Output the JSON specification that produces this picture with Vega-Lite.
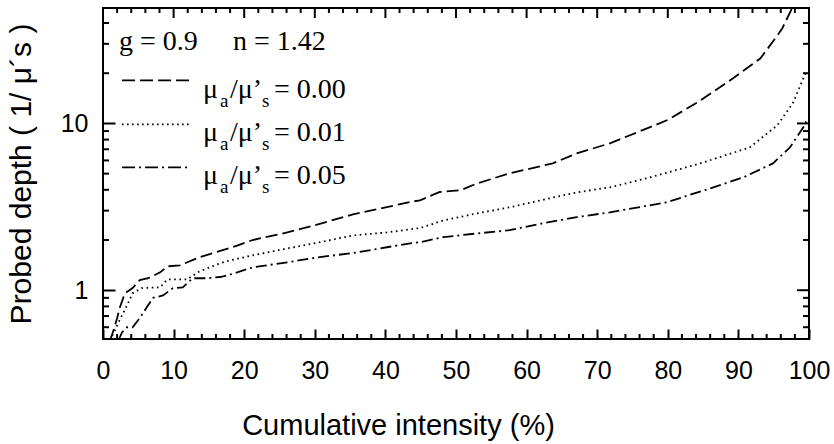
{
  "$schema": "https://vega.github.io/schema/vega-lite/v6.json",
  "width": 706,
  "height": 331,
  "autosize": "none",
  "padding": {"left": 103, "top": 8, "right": 25, "bottom": 105},
  "background": "white",
  "config": {
    "view": {"stroke": "black", "strokeWidth": 2},
    "axis": {
      "domain": false,
      "grid": false,
      "tickColor": "black",
      "labelColor": "black",
      "titleColor": "black",
      "labelFont": "Liberation Sans",
      "titleFont": "Liberation Sans",
      "labelFontSize": 25,
      "titleFontSize": 29,
      "titleFontWeight": "normal"
    },
    "text": {"font": "Liberation Serif", "color": "black"},
    "tick": {"color": "black", "thickness": 2, "opacity": 1}
  },
  "datasets": {
    "xminor": [{"v": 2}, {"v": 4}, {"v": 6}, {"v": 8}, {"v": 12}, {"v": 14}, {"v": 16}, {"v": 18}, {"v": 22}, {"v": 24}, {"v": 26}, {"v": 28}, {"v": 32}, {"v": 34}, {"v": 36}, {"v": 38}, {"v": 42}, {"v": 44}, {"v": 46}, {"v": 48}, {"v": 52}, {"v": 54}, {"v": 56}, {"v": 58}, {"v": 62}, {"v": 64}, {"v": 66}, {"v": 68}, {"v": 72}, {"v": 74}, {"v": 76}, {"v": 78}, {"v": 82}, {"v": 84}, {"v": 86}, {"v": 88}, {"v": 92}, {"v": 94}, {"v": 96}, {"v": 98}],
    "xmajor": [{"v": 0}, {"v": 10}, {"v": 20}, {"v": 30}, {"v": 40}, {"v": 50}, {"v": 60}, {"v": 70}, {"v": 80}, {"v": 90}, {"v": 100}],
    "yminor": [{"v": 0.6}, {"v": 0.7}, {"v": 0.8}, {"v": 0.9}, {"v": 2}, {"v": 3}, {"v": 4}, {"v": 5}, {"v": 6}, {"v": 7}, {"v": 8}, {"v": 9}, {"v": 20}, {"v": 30}, {"v": 40}],
    "ymajor": [{"v": 1}, {"v": 10}]
  },
  "data": {"values": [
      {"x": 1.0, "y": 0.50, "s": "0.00"},
      {"x": 1.4, "y": 0.56, "s": "0.00"},
      {"x": 2.0, "y": 0.68, "s": "0.00"},
      {"x": 2.4, "y": 0.79, "s": "0.00"},
      {"x": 3.1, "y": 0.96, "s": "0.00"},
      {"x": 4.2, "y": 1.03, "s": "0.00"},
      {"x": 5.2, "y": 1.15, "s": "0.00"},
      {"x": 6.4, "y": 1.18, "s": "0.00"},
      {"x": 8.1, "y": 1.28, "s": "0.00"},
      {"x": 9.1, "y": 1.39, "s": "0.00"},
      {"x": 10.9, "y": 1.41, "s": "0.00"},
      {"x": 13.7, "y": 1.58, "s": "0.00"},
      {"x": 16.6, "y": 1.72, "s": "0.00"},
      {"x": 19.0, "y": 1.85, "s": "0.00"},
      {"x": 21.2, "y": 2.0, "s": "0.00"},
      {"x": 26.1, "y": 2.22, "s": "0.00"},
      {"x": 30.7, "y": 2.5, "s": "0.00"},
      {"x": 35.4, "y": 2.85, "s": "0.00"},
      {"x": 40.2, "y": 3.15, "s": "0.00"},
      {"x": 43.5, "y": 3.38, "s": "0.00"},
      {"x": 44.9, "y": 3.46, "s": "0.00"},
      {"x": 47.7, "y": 3.88, "s": "0.00"},
      {"x": 50.6, "y": 3.97, "s": "0.00"},
      {"x": 53.0, "y": 4.37, "s": "0.00"},
      {"x": 57.6, "y": 5.02, "s": "0.00"},
      {"x": 63.7, "y": 5.76, "s": "0.00"},
      {"x": 67.1, "y": 6.61, "s": "0.00"},
      {"x": 71.8, "y": 7.6, "s": "0.00"},
      {"x": 77.5, "y": 9.5, "s": "0.00"},
      {"x": 80.0, "y": 10.5, "s": "0.00"},
      {"x": 84.6, "y": 13.7, "s": "0.00"},
      {"x": 89.2, "y": 18.6, "s": "0.00"},
      {"x": 93.1, "y": 24.5, "s": "0.00"},
      {"x": 95.5, "y": 33.6, "s": "0.00"},
      {"x": 96.2, "y": 37.0, "s": "0.00"},
      {"x": 97.6, "y": 49.0, "s": "0.00"},
      {"x": 98.2, "y": 55.0, "s": "0.00"},

      {"x": 1.0, "y": 0.50, "s": "0.01"},
      {"x": 2.1, "y": 0.63, "s": "0.01"},
      {"x": 3.4, "y": 0.81, "s": "0.01"},
      {"x": 4.2, "y": 0.96, "s": "0.01"},
      {"x": 5.5, "y": 1.03, "s": "0.01"},
      {"x": 8.1, "y": 1.04, "s": "0.01"},
      {"x": 9.1, "y": 1.16, "s": "0.01"},
      {"x": 11.9, "y": 1.16, "s": "0.01"},
      {"x": 13.7, "y": 1.30, "s": "0.01"},
      {"x": 16.6, "y": 1.45, "s": "0.01"},
      {"x": 17.7, "y": 1.50, "s": "0.01"},
      {"x": 21.2, "y": 1.62, "s": "0.01"},
      {"x": 26.1, "y": 1.78, "s": "0.01"},
      {"x": 30.7, "y": 1.94, "s": "0.01"},
      {"x": 35.4, "y": 2.13, "s": "0.01"},
      {"x": 40.2, "y": 2.22, "s": "0.01"},
      {"x": 44.9, "y": 2.36, "s": "0.01"},
      {"x": 48.2, "y": 2.62, "s": "0.01"},
      {"x": 53.0, "y": 2.89, "s": "0.01"},
      {"x": 57.6, "y": 3.14, "s": "0.01"},
      {"x": 63.3, "y": 3.56, "s": "0.01"},
      {"x": 67.1, "y": 3.86, "s": "0.01"},
      {"x": 71.8, "y": 4.14, "s": "0.01"},
      {"x": 77.5, "y": 4.75, "s": "0.01"},
      {"x": 84.6, "y": 5.76, "s": "0.01"},
      {"x": 91.6, "y": 7.18, "s": "0.01"},
      {"x": 95.5, "y": 9.73, "s": "0.01"},
      {"x": 97.7, "y": 13.2, "s": "0.01"},
      {"x": 99.2, "y": 18.6, "s": "0.01"},
      {"x": 99.7, "y": 20.8, "s": "0.01"},

      {"x": 2.2, "y": 0.50, "s": "0.05"},
      {"x": 2.7, "y": 0.56, "s": "0.05"},
      {"x": 3.4, "y": 0.60, "s": "0.05"},
      {"x": 4.2, "y": 0.60, "s": "0.05"},
      {"x": 5.2, "y": 0.68, "s": "0.05"},
      {"x": 6.2, "y": 0.79, "s": "0.05"},
      {"x": 7.1, "y": 0.90, "s": "0.05"},
      {"x": 8.5, "y": 0.93, "s": "0.05"},
      {"x": 9.9, "y": 1.03, "s": "0.05"},
      {"x": 11.3, "y": 1.04, "s": "0.05"},
      {"x": 12.7, "y": 1.18, "s": "0.05"},
      {"x": 14.7, "y": 1.18, "s": "0.05"},
      {"x": 16.6, "y": 1.20, "s": "0.05"},
      {"x": 17.7, "y": 1.23, "s": "0.05"},
      {"x": 21.2, "y": 1.37, "s": "0.05"},
      {"x": 26.1, "y": 1.47, "s": "0.05"},
      {"x": 30.7, "y": 1.58, "s": "0.05"},
      {"x": 35.4, "y": 1.67, "s": "0.05"},
      {"x": 40.2, "y": 1.81, "s": "0.05"},
      {"x": 43.5, "y": 1.91, "s": "0.05"},
      {"x": 44.9, "y": 1.94, "s": "0.05"},
      {"x": 48.2, "y": 2.08, "s": "0.05"},
      {"x": 53.0, "y": 2.19, "s": "0.05"},
      {"x": 57.6, "y": 2.29, "s": "0.05"},
      {"x": 62.3, "y": 2.52, "s": "0.05"},
      {"x": 67.1, "y": 2.74, "s": "0.05"},
      {"x": 71.8, "y": 2.93, "s": "0.05"},
      {"x": 79.9, "y": 3.37, "s": "0.05"},
      {"x": 86.0, "y": 4.08, "s": "0.05"},
      {"x": 90.7, "y": 4.75, "s": "0.05"},
      {"x": 94.9, "y": 5.76, "s": "0.05"},
      {"x": 97.3, "y": 7.18, "s": "0.05"},
      {"x": 99.2, "y": 9.47, "s": "0.05"},
      {"x": 99.6, "y": 10.3, "s": "0.05"}
  ]},
  "resolve": {"axis": {"x": "independent", "y": "independent"}},
  "layer": [
    {
      "mark": {"type": "line", "color": "black", "strokeWidth": 1.8, "clip": true},
      "encoding": {
        "x": {
          "field": "x", "type": "quantitative",
          "scale": {"domain": [0, 100], "nice": false, "zero": false},
          "axis": {
            "orient": "bottom",
            "values": [0, 10, 20, 30, 40, 50, 60, 70, 80, 90, 100],
            "format": "d", "ticks": true,
            "tickSize": -10, "tickWidth": 2, "labelPadding": 29,
            "labelFlush": false, "labelOverlap": false,
            "title": "Cumulative intensity (%)", "titlePadding": 28,
            "titleX": 295, "titleAnchor": "start", "titleAlign": "center"
          }
        },
        "y": {
          "field": "y", "type": "quantitative",
          "scale": {"type": "log", "domain": [0.51, 49.2], "nice": false},
          "axis": {
            "orient": "left",
            "values": [1, 10],
            "format": "d", "ticks": true,
            "tickSize": -12, "tickWidth": 2, "labelPadding": 27,
            "labelFlush": false, "labelOverlap": false,
            "title": "Probed depth ( 1/ μ´s )", "titlePadding": 24, "titleFontSize": 30
          }
        },
        "detail": {"field": "s"},
        "strokeDash": {
          "field": "s", "type": "nominal",
          "scale": {"domain": ["0.00", "0.01", "0.05"], "range": [[12, 5], [1.6, 3.6], [11, 4, 2, 4]]},
          "legend": null
        }
      }
    },
    {
      "data": {"name": "xminor"},
      "mark": {"type": "tick", "orient": "vertical", "size": 10, "clip": true},
      "encoding": {
        "x": {"field": "v", "type": "quantitative", "axis": null},
        "y": {"datum": 0.51, "type": "quantitative", "axis": null}
      }
    },
    {
      "data": {"name": "xminor"},
      "mark": {"type": "tick", "orient": "vertical", "size": 10, "clip": true},
      "encoding": {
        "x": {"field": "v", "type": "quantitative", "axis": null},
        "y": {"datum": 49.2, "type": "quantitative", "axis": null}
      }
    },
    {
      "data": {"name": "xmajor"},
      "mark": {"type": "tick", "orient": "vertical", "size": 20, "clip": true},
      "encoding": {
        "x": {"field": "v", "type": "quantitative", "axis": null},
        "y": {"datum": 49.2, "type": "quantitative", "axis": null}
      }
    },
    {
      "data": {"name": "yminor"},
      "mark": {"type": "tick", "orient": "horizontal", "size": 12, "clip": true},
      "encoding": {
        "x": {"datum": 0, "type": "quantitative", "axis": null},
        "y": {"field": "v", "type": "quantitative", "axis": null}
      }
    },
    {
      "data": {"name": "yminor"},
      "mark": {"type": "tick", "orient": "horizontal", "size": 12, "clip": true},
      "encoding": {
        "x": {"datum": 100, "type": "quantitative", "axis": null},
        "y": {"field": "v", "type": "quantitative", "axis": null}
      }
    },
    {
      "data": {"name": "ymajor"},
      "mark": {"type": "tick", "orient": "horizontal", "size": 24, "clip": true},
      "encoding": {
        "x": {"datum": 100, "type": "quantitative", "axis": null},
        "y": {"field": "v", "type": "quantitative", "axis": null}
      }
    },
    {
      "data": {"values": [{"t": "g = 0.9"}]},
      "mark": {"type": "text", "align": "left", "baseline": "alphabetic", "fontSize": 28},
      "encoding": {
        "text": {"field": "t"},
        "x": {"datum": 2.27, "type": "quantitative", "axis": null},
        "y": {"datum": 27.4, "type": "quantitative", "axis": null}
      }
    },
    {
      "data": {"values": [{"t": "n = 1.42"}]},
      "mark": {"type": "text", "align": "left", "baseline": "alphabetic", "fontSize": 28},
      "encoding": {
        "text": {"field": "t"},
        "x": {"datum": 18.4, "type": "quantitative", "axis": null},
        "y": {"datum": 27.4, "type": "quantitative", "axis": null}
      }
    },
    {
      "data": {"values": [{"s": "0.00"}]},
      "mark": {"type": "rule", "color": "black", "strokeWidth": 1.8, "strokeDash": [13, 5]},
      "encoding": {
        "x": {"datum": 2.7, "type": "quantitative", "axis": null},
        "x2": {"datum": 12.3},
        "y": {"datum": 18.1, "type": "quantitative", "axis": null}
      }
    },
    {
      "data": {"values": [{"s": "0.01"}]},
      "mark": {"type": "rule", "color": "black", "strokeWidth": 1.8, "strokeDash": [1.6, 3.4]},
      "encoding": {
        "x": {"datum": 2.7, "type": "quantitative", "axis": null},
        "x2": {"datum": 12.3},
        "y": {"datum": 9.86, "type": "quantitative", "axis": null}
      }
    },
    {
      "data": {"values": [{"s": "0.05"}]},
      "mark": {"type": "rule", "color": "black", "strokeWidth": 1.8, "strokeDash": [13, 4, 2, 4]},
      "encoding": {
        "x": {"datum": 2.7, "type": "quantitative", "axis": null},
        "x2": {"datum": 12.3},
        "y": {"datum": 5.45, "type": "quantitative", "axis": null}
      }
    },
    {
      "data": {"values": [{"t": "μ"}]},
      "mark": {"type": "text", "align": "left", "baseline": "alphabetic", "fontSize": 28, "lineHeight": 43.2, "text": ["μ", "μ", "μ"]},
      "encoding": {
        "x": {"datum": 14.16, "type": "quantitative", "axis": null},
        "y": {"datum": 14.3, "type": "quantitative", "axis": null}
      }
    },
    {
      "data": {"values": [{"t": "a"}]},
      "mark": {"type": "text", "align": "left", "baseline": "alphabetic", "fontSize": 19, "lineHeight": 43.2, "dx": 17, "dy": 9, "text": ["a", "a", "a"]},
      "encoding": {
        "x": {"datum": 14.16, "type": "quantitative", "axis": null},
        "y": {"datum": 14.3, "type": "quantitative", "axis": null}
      }
    },
    {
      "data": {"values": [{"t": "/μ’"}]},
      "mark": {"type": "text", "align": "left", "baseline": "alphabetic", "fontSize": 28, "lineHeight": 43.2, "dx": 27, "text": ["/μ’", "/μ’", "/μ’"]},
      "encoding": {
        "x": {"datum": 14.16, "type": "quantitative", "axis": null},
        "y": {"datum": 14.3, "type": "quantitative", "axis": null}
      }
    },
    {
      "data": {"values": [{"t": "s"}]},
      "mark": {"type": "text", "align": "left", "baseline": "alphabetic", "fontSize": 19, "lineHeight": 43.2, "dx": 59, "dy": 9, "text": ["s", "s", "s"]},
      "encoding": {
        "x": {"datum": 14.16, "type": "quantitative", "axis": null},
        "y": {"datum": 14.3, "type": "quantitative", "axis": null}
      }
    },
    {
      "data": {"values": [{"t": "="}]},
      "mark": {"type": "text", "align": "left", "baseline": "alphabetic", "fontSize": 28, "lineHeight": 43.2, "dx": 71, "text": ["= 0.00", "= 0.01", "= 0.05"]},
      "encoding": {
        "x": {"datum": 14.16, "type": "quantitative", "axis": null},
        "y": {"datum": 14.3, "type": "quantitative", "axis": null}
      }
    }
  ]
}
